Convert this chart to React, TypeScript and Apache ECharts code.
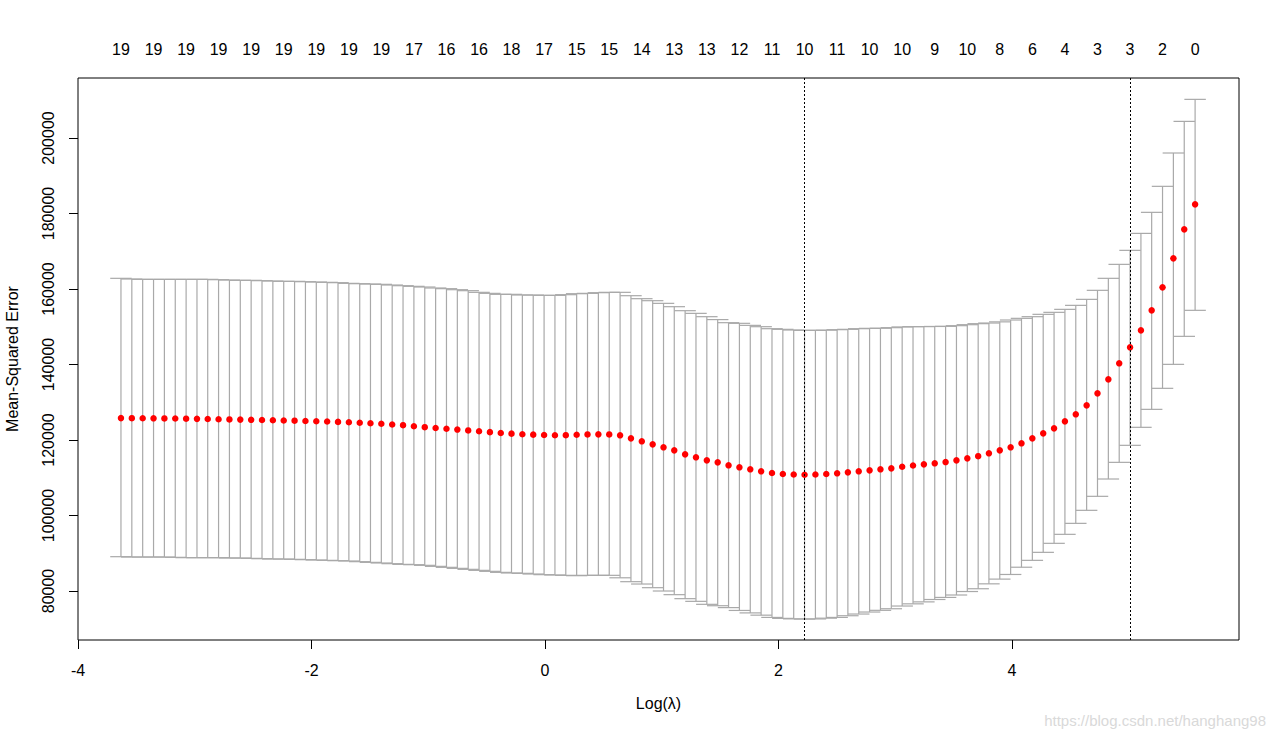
import React, { useEffect, useRef } from "react";
import * as echarts from "echarts";

// log(lambda) of the 100 fits
const logLambda = [
  -3.632, -3.539, -3.446, -3.353, -3.26, -3.167, -3.074, -2.981, -2.889, -2.796,
  -2.703, -2.61, -2.517, -2.424, -2.331, -2.238, -2.145, -2.052, -1.959, -1.866,
  -1.773, -1.68, -1.587, -1.495, -1.402, -1.309, -1.216, -1.123, -1.03, -0.937,
  -0.844, -0.751, -0.658, -0.565, -0.472, -0.379, -0.287, -0.194, -0.101, -0.008,
  0.085, 0.178, 0.271, 0.364, 0.457, 0.55, 0.643, 0.736, 0.829, 0.922,
  1.015, 1.107, 1.2, 1.293, 1.386, 1.479, 1.572, 1.665, 1.758, 1.851,
  1.944, 2.037, 2.13, 2.223, 2.316, 2.409, 2.502, 2.594, 2.687, 2.78,
  2.873, 2.966, 3.059, 3.152, 3.245, 3.338, 3.431, 3.524, 3.617, 3.71,
  3.802, 3.895, 3.988, 4.081, 4.174, 4.267, 4.36, 4.453, 4.546, 4.639,
  4.732, 4.825, 4.918, 5.011, 5.104, 5.196, 5.289, 5.382, 5.475, 5.568,
];

// cross-validated mean squared error
const cvMean = [
  125800, 125780, 125760, 125740, 125720, 125690, 125650, 125600, 125550, 125500,
  125450, 125400, 125350, 125300, 125240, 125180, 125120, 125050, 124970, 124890,
  124800, 124700, 124580, 124450, 124300, 124120, 123930, 123650, 123400, 123180,
  122970, 122760, 122540, 122310, 122080, 121870, 121690, 121540, 121420, 121320,
  121260, 121280, 121400, 121480, 121500, 121480, 121240, 120440, 119650, 118850,
  118060, 117260, 116200, 115410, 114610, 114080, 113290, 112760, 112230, 111700,
  111250, 110980, 110850, 110800, 110850, 110980, 111170, 111430, 111700, 111960,
  112230, 112490, 112900, 113250, 113550, 113820, 114150, 114610, 115140, 115720,
  116470, 117260, 118060, 119120, 120440, 121760, 123090, 124940, 126800, 129180,
  132360, 136070, 140310, 144540, 149050, 154350, 160440, 168120, 175800, 182430,
];

// upper end of the error bars
const cvUpper = [
  162830, 162650, 162560, 162560, 162560, 162560, 162560, 162560, 162560, 162470,
  162380, 162300, 162300, 162210, 162120, 162030, 162030, 161940, 161850, 161770,
  161680, 161500, 161410, 161320, 161240, 161060, 160880, 160710, 160530, 160270,
  160090, 159820, 159560, 159120, 158850, 158590, 158590, 158410, 158410, 158320,
  158320, 158500, 158760, 158850, 159030, 159120, 159120, 158230, 157440, 156910,
  156200, 155320, 154260, 153550, 152670, 151900, 151080, 150910, 150370, 150020,
  149490, 149320, 149140, 149050, 149050, 149100, 149230, 149320, 149490, 149580,
  149600, 149760, 149950, 150020, 150050, 150080, 150110, 150290, 150550, 150820,
  150990, 151300, 151790, 152230, 152670, 153290, 153820, 154610, 155670, 157260,
  159650, 162830, 166530, 170240, 174740, 180310, 187200, 196030, 204410, 210240,
];

// lower end of the error bars
const cvLower = [
  89090, 89000, 89000, 89000, 89000, 88920, 88830, 88830, 88830, 88830,
  88740, 88740, 88650, 88560, 88470, 88470, 88390, 88300, 88210, 88120,
  88030, 87950, 87770, 87590, 87420, 87240, 87060, 86970, 86800, 86530,
  86270, 86000, 85740, 85470, 85210, 84940, 84770, 84680, 84500, 84330,
  84240, 84150, 84060, 84150, 84150, 84150, 83500, 82470, 81850, 80880,
  80000, 79030, 77970, 77260, 76470, 76100, 75600, 74850, 74200, 73600,
  73000, 72750, 72620, 72570, 72600, 72800, 73000, 73450, 73900, 74430,
  74880, 75300, 76020, 76600, 77120, 77750, 78300, 78940, 79860, 80600,
  81900, 83150, 84380, 86300, 88120, 90240, 92630, 95010, 97920, 101370,
  105080, 109670, 114080, 118590, 123360, 128120, 133690, 140040, 147460, 154350,
];

// number of non-zero coefficients, shown above the plot at these fits
const nzeroIdx = [
  0, 3, 6, 9, 12, 15, 18, 21, 24, 27, 30, 33, 36, 39, 42, 45, 48,
  51, 54, 57, 60, 63, 66, 69, 72, 75, 78, 81, 84, 87, 90, 93, 96, 99,
];
const nzeroLabels = [
  19, 19, 19, 19, 19, 19, 19, 19, 19, 17, 16, 16, 18, 17, 15, 15, 14,
  13, 13, 12, 11, 10, 11, 10, 10, 9, 10, 8, 6, 4, 3, 3, 2, 0,
];

const lambdaMinIdx = 63;
const lambda1seIdx = 93;

const xTicks = [-4, -2, 0, 2, 4];
const yTicks = [80000, 100000, 120000, 140000, 160000, 180000, 200000];
const xRange = [-4, 5.944];
const yRange = [67020, 215900];

const FONT = "'Liberation Sans', Arial, sans-serif";

export default function App() {
  const ref = useRef<HTMLDivElement>(null);

  useEffect(() => {
    if (!ref.current) return;
    const chart = echarts.init(ref.current, null, { renderer: "svg" });
    const capW = 0.01 * (logLambda[logLambda.length - 1] - logLambda[0]);
    const topValues = nzeroIdx.map((i) => logLambda[i]);

    const barData = logLambda.map((x, i) => [x, cvLower[i], cvUpper[i]]);
    const pointData = logLambda.map((x, i) => [x, cvMean[i]]);

    const option: any = {
      animation: false,
      backgroundColor: "#ffffff",
      textStyle: { fontFamily: FONT },
      grid: {
        left: 78,
        top: 78,
        width: 1161,
        height: 562,
        show: true,
        borderColor: "#000000",
        borderWidth: 1,
        backgroundColor: "transparent",
        containLabel: false,
        outerBoundsMode: "none",
      },
      xAxis: [
        {
          type: "value",
          min: xRange[0],
          max: xRange[1],
          position: "bottom",
          name: "Log(λ)",
          nameLocation: "middle",
          nameGap: 55,
          nameTextStyle: { color: "#000", fontSize: 16, fontFamily: FONT },
          axisLine: { show: false, onZero: false },
          splitLine: { show: false },
          axisTick: {
            show: true,
            customValues: xTicks,
            length: 9,
            lineStyle: { color: "#000", width: 1 },
          },
          axisLabel: {
            customValues: xTicks,
            color: "#000",
            fontSize: 16,
            fontFamily: FONT,
            margin: 22,
            formatter: (v: number) => String(v),
          },
        },
        {
          type: "value",
          min: xRange[0],
          max: xRange[1],
          position: "top",
          axisLine: { show: false, onZero: false },
          splitLine: { show: false },
          axisTick: { show: false },
          axisLabel: {
            customValues: topValues,
            color: "#000",
            fontSize: 16,
            fontFamily: FONT,
            margin: 21,
            formatter: (v: number) => {
              let best = 0;
              let bd = Infinity;
              topValues.forEach((t, k) => {
                const d = Math.abs(t - v);
                if (d < bd) {
                  bd = d;
                  best = k;
                }
              });
              return String(nzeroLabels[best]);
            },
          },
        },
      ],
      yAxis: {
        type: "value",
        min: yRange[0],
        max: yRange[1],
        position: "left",
        name: "Mean-Squared Error",
        nameLocation: "middle",
        nameGap: 58,
        nameRotate: 90,
        nameTextStyle: { color: "#000", fontSize: 16, fontFamily: FONT },
        axisLine: { show: false, onZero: false },
        splitLine: { show: false },
        axisTick: {
          show: true,
          customValues: yTicks,
          length: 9,
          lineStyle: { color: "#000", width: 1 },
        },
        axisLabel: {
          customValues: yTicks,
          rotate: 90,
          color: "#000",
          fontSize: 16,
          fontFamily: FONT,
          margin: 22,
          formatter: (v: number) => String(v),
        },
      },
      series: [
        {
          type: "custom",
          xAxisIndex: 0,
          yAxisIndex: 0,
          data: barData,
          encode: { x: 0, y: [1, 2] },
          silent: true,
          renderItem: (params: any, api: any) => {
            const x = api.value(0);
            const lo = api.value(1);
            const hi = api.value(2);
            const pLo = api.coord([x, lo]);
            const pHi = api.coord([x, hi]);
            const tl = api.coord([x - capW, hi]);
            const tr = api.coord([x + capW, hi]);
            const bl = api.coord([x - capW, lo]);
            const br = api.coord([x + capW, lo]);
            const st = { stroke: "#a9a9a9", lineWidth: 1.2 };
            return {
              type: "group",
              children: [
                { type: "line", shape: { x1: pLo[0], y1: pLo[1], x2: pHi[0], y2: pHi[1] }, style: st },
                { type: "line", shape: { x1: tl[0], y1: tl[1], x2: tr[0], y2: tr[1] }, style: st },
                { type: "line", shape: { x1: bl[0], y1: bl[1], x2: br[0], y2: br[1] }, style: st },
              ],
            };
          },
          z: 2,
        },
        {
          type: "scatter",
          xAxisIndex: 0,
          yAxisIndex: 0,
          data: pointData,
          symbol: "circle",
          symbolSize: 6.5,
          itemStyle: { color: "#ff0000", opacity: 1 },
          z: 3,
          markLine: {
            silent: true,
            symbol: ["none", "none"],
            label: { show: false },
            lineStyle: { color: "#000", type: [2, 2], width: 1, opacity: 1 },
            data: [{ xAxis: logLambda[lambdaMinIdx] }, { xAxis: logLambda[lambda1seIdx] }],
            z: 4,
          },
        },
      ],
      graphic: [
        {
          type: "text",
          right: 14,
          bottom: 10,
          style: {
            text: "https://blog.csdn.net/hanghang98",
            fill: "#d9d9d9",
            fontSize: 15,
            fontFamily: FONT,
          },
          z: 10,
        },
      ],
    };

    chart.setOption(option);
    return () => chart.dispose();
  }, []);

  return (
    <div
      ref={ref}
      style={{ position: "fixed", left: 0, top: 0, width: 1280, height: 738, background: "#fff" }}
    />
  );
}
